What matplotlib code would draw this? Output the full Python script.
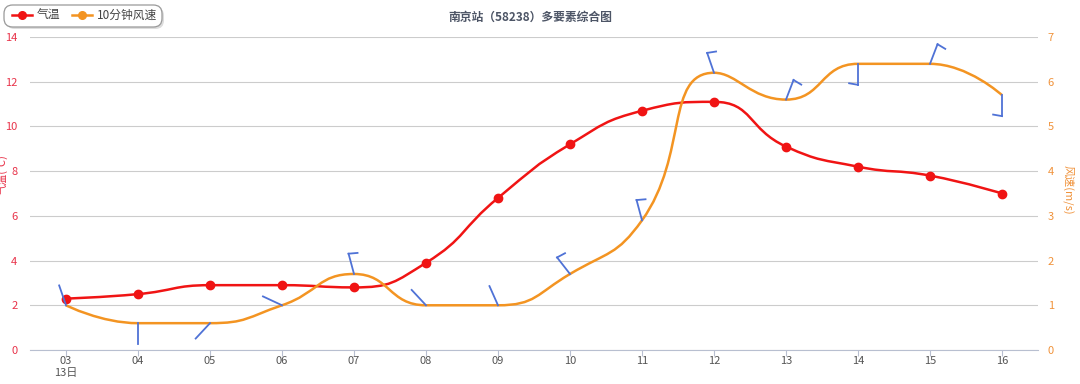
import numpy as np
import matplotlib
matplotlib.use('Agg')
import matplotlib.pyplot as plt
import matplotlib.transforms as mtransforms
from matplotlib.path import Path
from matplotlib.patches import PathPatch, FancyBboxPatch
from matplotlib.lines import Line2D

plt.rcParams['font.family'] = ['Noto Sans CJK SC', 'DejaVu Sans']

# data
hours = ['03', '04', '05', '06', '07', '08', '09', '10', '11', '12', '13', '14', '15', '16']
temp = [2.3, 2.5, 2.9, 2.9, 2.8, 3.9, 6.8, 9.2, 10.7, 11.1, 9.1, 8.2, 7.8, 7.0]
wind_spd = [1.0, 0.6, 0.6, 1.0, 1.7, 1.0, 1.0, 1.7, 2.9, 6.2, 5.6, 6.4, 6.4, 5.7]
wind_dir = [341, 180, 223, 295, 345, 317, 336, 322, 345, 341, 21, 180, 21, 180]

RED = '#f01414'
ORANGE = '#f39422'
BLUE = '#4f72d6'


def smooth_path(xs, ys, sx, sy, smooth=0.5):
    # echarts-like bezier smoothing, computed in pixel-ish units
    X = [x * sx for x in xs]
    Y = [y * sy for y in ys]
    n = len(X)
    verts = [(X[0], Y[0])]
    codes = [Path.MOVETO]
    cpx0, cpy0 = X[0], Y[0]
    for k in range(1, n):
        x, y = X[k], Y[k]
        px, py = X[k - 1], Y[k - 1]
        if k >= n - 1:
            cpx1, cpy1 = x, y
            ncx, ncy = x, y
        else:
            nx, ny = X[k + 1], Y[k + 1]
            vx, vy = nx - px, ny - py
            lp = np.hypot(x - px, y - py)
            ln = np.hypot(nx - x, ny - y)
            r = ln / (ln + lp)
            ncx = x + vx * smooth * r
            ncy = y + vy * smooth * r
            ncx = max(min(ncx, max(nx, x)), min(nx, x))
            ncy = max(min(ncy, max(ny, y)), min(ny, y))
            vx, vy = ncx - x, ncy - y
            cpx1 = x - vx * lp / ln
            cpy1 = y - vy * lp / ln
            cpx1 = max(min(cpx1, max(px, x)), min(px, x))
            cpy1 = max(min(cpy1, max(py, y)), min(py, y))
            vx, vy = x - cpx1, y - cpy1
            ncx = x + vx * ln / lp
            ncy = y + vy * ln / lp
        verts += [(cpx0, cpy0), (cpx1, cpy1), (x, y)]
        codes += [Path.CURVE4] * 3
        cpx0, cpy0 = ncx, ncy
    verts = [(a / sx, b / sy) for a, b in verts]
    return Path(verts, codes)


fig = plt.figure(figsize=(10.8, 3.84), dpi=100)
ax = fig.add_axes([30 / 1080, 34 / 384, 1008 / 1080, 313 / 384])
ax2 = ax.twinx()

xs = np.arange(len(hours))
ax.set_xlim(-0.5, len(hours) - 0.5)
ax.set_ylim(0, 14)
ax2.set_ylim(0, 7)
ax.set_yticks(range(0, 15, 2))
ax2.set_yticks(range(0, 8))
ax.set_xticks(xs)
ax.set_xticklabels(hours)

ax.grid(axis='y', color='#cccccc', linewidth=0.8)
for a in (ax, ax2):
    for s in ('left', 'right', 'top', 'bottom'):
        a.spines[s].set_visible(False)
ax.spines['bottom'].set_visible(True)
ax.spines['bottom'].set_color('#b8bfd0')
ax.tick_params(axis='x', colors='#b8bfd0', labelcolor='#555555', labelsize=8, length=4, pad=0)
ax.tick_params(axis='y', length=0, labelcolor='#e8334a', labelsize=8, pad=9)
ax2.tick_params(axis='y', length=0, labelcolor='#f0923a', labelsize=8, pad=7)

# temperature
ax.add_patch(PathPatch(smooth_path(xs, temp, 72, 22.36), fill=False, edgecolor=RED, lw=1.8, zorder=3))
ax.plot(xs, temp, 'o', color=RED, ms=6, zorder=4)

# wind speed
ax2.add_patch(PathPatch(smooth_path(xs, wind_spd, 72, 44.7), fill=False, edgecolor=ORANGE, lw=1.8, zorder=3))

# wind barbs (pixel lengths, /100 -> inches)
shaft = 21 / 100
flag = 9 / 100
for i in range(len(hours)):
    th = np.deg2rad(wind_dir[i])
    d = np.array([np.sin(th), np.cos(th)])
    tr = fig.dpi_scale_trans + mtransforms.ScaledTranslation(xs[i], wind_spd[i], ax2.transData)
    end = d * shaft
    ax2.add_line(Line2D([0, end[0]], [0, end[1]], transform=tr, color=BLUE, lw=1.3, zorder=5))
    if wind_spd[i] >= 1.5:
        a = np.deg2rad(-100)
        fd = np.array([d[0] * np.cos(a) - d[1] * np.sin(a), d[0] * np.sin(a) + d[1] * np.cos(a)])
        fe = end + fd * flag
        ax2.add_line(Line2D([end[0], fe[0]], [end[1], fe[1]], transform=tr, color=BLUE, lw=1.3, zorder=5))

# texts
fig.text(530 / 1080, 1 - 17 / 384, '南京站（58238）多要素综合图', ha='center', va='center',
         fontsize=8.5, fontweight='bold', color='#4d5566')
fig.text(66 / 1080, 1 - 373 / 384, '13日', ha='center', va='center', fontsize=8, color='#555555')
fig.text(1068 / 1080, 1 - 190 / 384, '风速(m/s)', ha='center', va='center', rotation=-90,
         fontsize=8, color='#f0923a')
fig.text(2 / 1080, 1 - 175 / 384, '气温(℃)', ha='center', va='center', rotation=90,
         fontsize=8, color='#e8334a')

# legend
box = FancyBboxPatch((4 / 1080, 1 - 27 / 384), 158 / 1080, 22 / 384, boxstyle='round,pad=0,rounding_size=0.008',
                     transform=fig.transFigure, facecolor='white', edgecolor='#999999', lw=0.9,
                     zorder=10, mutation_aspect=1080 / 384)
shadow = FancyBboxPatch((6 / 1080, 1 - 29 / 384), 158 / 1080, 22 / 384, boxstyle='round,pad=0,rounding_size=0.008',
                        transform=fig.transFigure, facecolor='#dddddd', edgecolor='none',
                        zorder=9, mutation_aspect=1080 / 384)
fig.patches.extend([shadow, box])
ly = 1 - 15 / 384
for x0, col, lab in [(12, RED, '气温'), (72, ORANGE, '10分钟风速')]:
    fig.lines.append(Line2D([x0 / 1080, (x0 + 20) / 1080], [ly, ly], transform=fig.transFigure,
                            color=col, lw=1.8, zorder=11))
    fig.lines.append(Line2D([(x0 + 10) / 1080], [ly], transform=fig.transFigure,
                            color=col, marker='o', ms=5.5, zorder=11))
    fig.text((x0 + 25) / 1080, ly, lab, ha='left', va='center', fontsize=8.5, color='#444444', zorder=12)

fig.savefig('out.png', dpi=100)
